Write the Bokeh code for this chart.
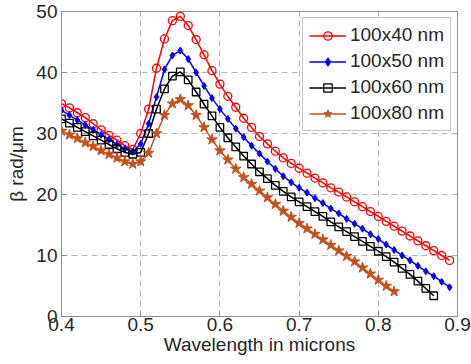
from bokeh.plotting import figure
from bokeh.models import Range1d, Legend, FixedTicker
from bokeh.embed import file_html
from bokeh.resources import INLINE

wl_40 = [round(0.40 + 0.01 * i, 2) for i in range(50)]
wl_50 = [round(0.40 + 0.01 * i, 2) for i in range(50)]
wl_60 = [round(0.40 + 0.01 * i, 2) for i in range(48)]
wl_80 = [round(0.40 + 0.01 * i, 2) for i in range(43)]

beta_40 = [34.9, 34.2, 33.4, 32.6, 31.6, 30.6, 29.7, 28.9, 28.0, 27.4,
           30.0, 34.0, 40.7, 45.5, 48.5, 49.2, 47.7, 45.4, 42.9, 40.3,
           38.1, 36.1, 34.3, 32.5, 31.0, 29.5, 28.3, 27.1, 26.0, 25.1,
           24.3, 23.5, 22.7, 21.9, 21.1, 20.4, 19.6, 18.8, 18.0, 17.2,
           16.4, 15.6, 14.8, 14.0, 13.2, 12.4, 11.6, 10.8, 10.0, 9.2]
beta_50 = [33.8, 33.0, 32.2, 31.4, 30.6, 29.8, 29.0, 28.2, 27.5, 27.0,
           28.3, 31.6, 36.0, 40.5, 42.8, 43.6, 42.2, 40.0, 37.8, 35.8,
           34.0, 32.4, 30.8, 29.4, 28.0, 26.7, 25.4, 24.2, 23.0, 22.0,
           21.1, 20.3, 19.4, 18.6, 17.7, 16.9, 16.0, 15.2, 14.4, 13.5,
           12.7, 11.8, 10.9, 10.0, 9.2, 8.3, 7.4, 6.6, 5.7, 4.8]
beta_60 = [32.4, 31.7, 31.0, 30.3, 29.6, 28.9, 28.2, 27.5, 26.9, 26.6,
           26.9, 30.0, 34.0, 37.3, 39.4, 40.1, 38.8, 36.8, 34.8, 32.9,
           31.0, 29.3, 27.8, 26.3, 25.0, 23.7, 22.6, 21.5, 20.5, 19.6,
           18.8, 18.0, 17.2, 16.4, 15.5, 14.7, 13.9, 13.1, 12.3, 11.5,
           10.7, 9.8, 8.9, 7.9, 6.9, 5.8, 4.6, 3.4]
beta_80 = [30.4, 29.8, 29.2, 28.5, 27.9, 27.2, 26.6, 26.0, 25.4, 25.0,
           25.4, 26.8, 30.0, 33.0, 34.9, 35.6, 34.6, 33.0, 31.0, 29.0,
           27.2, 25.7, 24.2, 22.8, 21.7, 20.6, 19.5, 18.4, 17.3, 16.3,
           15.3, 14.4, 13.5, 12.6, 11.7, 10.8, 9.9, 9.0, 8.0, 7.0,
           6.0, 5.0, 4.1]

labels = ["100x40 nm", "100x50 nm", "100x60 nm", "100x80 nm"]
x_ticks = [0.4, 0.5, 0.6, 0.7, 0.8, 0.9]
y_ticks = [0, 10, 20, 30, 40, 50]

FONT = "Liberation Sans"
FS = "19px"
AX = "#8c8c8c"

p = figure(width=471, height=364, output_backend="svg", toolbar_location=None,
           x_range=Range1d(0.4, 0.9), y_range=Range1d(0, 50),
           min_border_left=61, min_border_right=14, min_border_top=11, min_border_bottom=48,
           background_fill_color="white", border_fill_color="white")
p.outline_line_color = AX
p.outline_line_width = 1

for ax in (p.xaxis[0], p.yaxis[0]):
    ax.major_label_text_font = FONT
    ax.major_label_text_font_size = FS
    ax.major_label_text_color = "#262626"
    ax.axis_label_text_font = FONT
    ax.axis_label_text_font_size = FS
    ax.axis_label_text_font_style = "normal"
    ax.axis_label_text_color = "#262626"
    ax.axis_line_color = AX
    ax.major_tick_line_color = AX
    ax.major_tick_in = 5
    ax.major_tick_out = 0
    ax.minor_tick_line_color = None

p.xaxis[0].ticker = FixedTicker(ticks=x_ticks)
p.yaxis[0].ticker = FixedTicker(ticks=y_ticks)
p.xaxis[0].axis_label = "Wavelength in microns"
p.yaxis[0].axis_label = "β rad/μm"
p.xaxis[0].major_label_standoff = 1
p.xaxis[0].axis_label_standoff = 0
p.yaxis[0].major_label_standoff = 4
p.yaxis[0].axis_label_standoff = 6

p.xgrid.ticker = FixedTicker(ticks=x_ticks)
p.ygrid.ticker = FixedTicker(ticks=y_ticks)
for g in (p.xgrid[0], p.ygrid[0]):
    g.grid_line_color = "#b4b4b4"
    g.grid_line_dash = "6 4"
    g.grid_line_width = 1

r1 = p.line(wl_40, beta_40, line_color="#ff0000", line_width=1.5)
s1 = p.scatter(wl_40, beta_40, marker="circle", size=8, fill_color=None,
               line_color="#ff0000", line_width=1.3)
r2 = p.line(wl_50, beta_50, line_color="#0000ff", line_width=1.5)
s2 = p.scatter(wl_50, beta_50, marker="diamond", size=7, fill_color="#0000ff",
               line_color="#0000ff")
r3 = p.line(wl_60, beta_60, line_color="#000000", line_width=1.5)
s3 = p.scatter(wl_60, beta_60, marker="square", size=7.5, fill_color=None,
               line_color="#000000", line_width=1.3)
r4 = p.line(wl_80, beta_80, line_color="#c4501c", line_width=1.5)
s4 = p.scatter(wl_80, beta_80, marker="star", size=11, fill_color="#c4501c",
               line_color="#c4501c")

legend = Legend(items=[(labels[0], [r1, s1]), (labels[1], [r2, s2]),
                       (labels[2], [r3, s3]), (labels[3], [r4, s4])],
                location="top_right", margin=6, padding=6, spacing=4,
                label_text_font=FONT, label_text_font_size=FS, label_text_color="#262626",
                glyph_width=37, glyph_height=21, label_height=21, label_standoff=4,
                border_line_color=AX, background_fill_color="white")
p.add_layout(legend)

open("out.html", "w").write(file_html(p, INLINE))
